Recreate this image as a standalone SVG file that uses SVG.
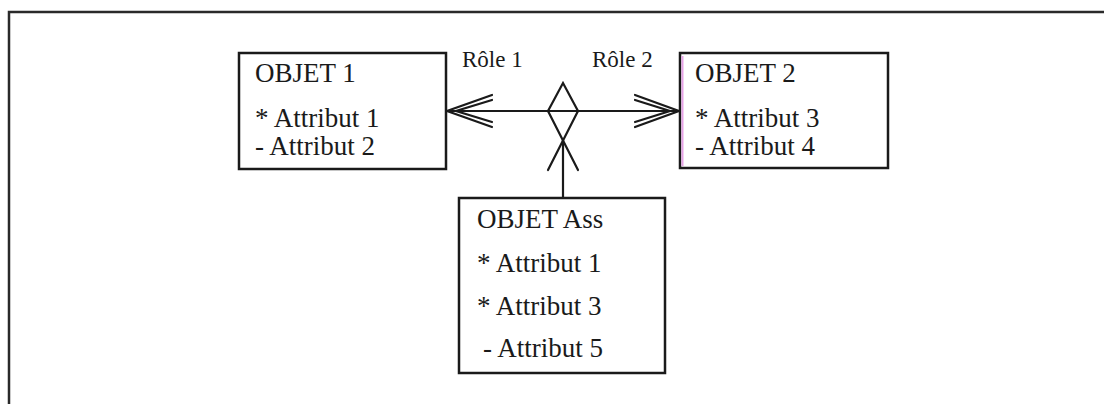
<svg xmlns="http://www.w3.org/2000/svg" width="1104" height="404" viewBox="0 0 1104 404">
  <style>
    .box { fill: #ffffff; stroke: #1a1a1a; stroke-width: 2.5; }
    .t { font-family: "Liberation Serif", "Times New Roman", serif; font-size: 27px; fill: #1a1a1a; }
    .r { font-family: "Liberation Serif", "Times New Roman", serif; font-size: 23px; fill: #1a1a1a; }
    .ln { fill: none; stroke: #1a1a1a; stroke-width: 2.2; stroke-linecap: round; stroke-linejoin: miter; }
  </style>
  <rect x="0" y="0" width="1104" height="404" fill="#ffffff"/>
  <g id="frame">
    <path d="M9,404 V12 H1104" fill="none" stroke="#2a2a2a" stroke-width="2.5"/>
  </g>
  <g id="connectors">
    <line class="ln" x1="446" y1="111" x2="680" y2="111"/>
    <!-- left double arrowhead -->
    <polyline class="ln" points="492,95 447,111 492,127"/>
    <polyline class="ln" points="492,100 456,111 492,122"/>
    <!-- right double arrowhead -->
    <polyline class="ln" points="635,95 679,111 635,127"/>
    <polyline class="ln" points="635,100 670,111 635,122"/>
    <!-- diamond / crow's foot -->
    <polyline class="ln" points="548,111 563,83 578,111"/>
    <line class="ln" x1="548" y1="111" x2="578" y2="170"/>
    <line class="ln" x1="578" y1="111" x2="548" y2="170"/>
    <line class="ln" x1="563" y1="140" x2="563" y2="198"/>
    <text class="r" x="462" y="67">Rôle 1</text>
    <text class="r" x="592" y="67">Rôle 2</text>
  </g>
  <g id="objet1">
    <rect class="box" x="239" y="53" width="207" height="116"/>
    <text class="t" x="255" y="82">OBJET 1</text>
    <text class="t" x="255" y="127">* Attribut 1</text>
    <text class="t" x="255" y="155">- Attribut 2</text>
  </g>
  <g id="objet2">
    <rect class="box" x="680" y="53" width="208" height="115"/>
    <line x1="682.5" y1="56" x2="682.5" y2="166" stroke="#e6a2e6" stroke-width="2"/>
    <text class="t" x="695" y="82">OBJET 2</text>
    <text class="t" x="695" y="127">* Attribut 3</text>
    <text class="t" x="695" y="155">- Attribut 4</text>
  </g>
  <g id="objetAss">
    <rect class="box" x="459" y="198" width="206" height="175"/>
    <text class="t" x="477" y="228">OBJET Ass</text>
    <text class="t" x="477" y="272">* Attribut 1</text>
    <text class="t" x="477" y="315">* Attribut 3</text>
    <text class="t" x="483" y="357">- Attribut 5</text>
  </g>
</svg>
